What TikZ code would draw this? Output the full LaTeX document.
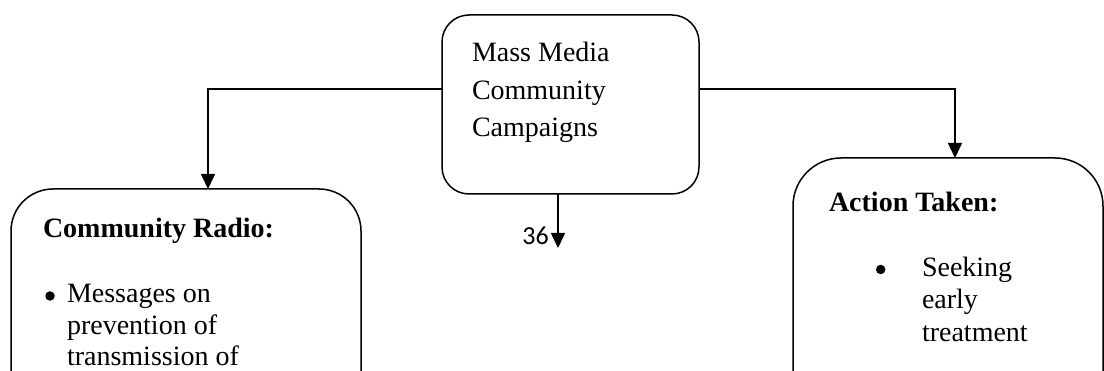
\documentclass[tikz,border=0pt]{standalone}
\usepackage{fontspec}
\setmainfont{Liberation Serif}
\newfontfamily\numfont{Carlito}
\usetikzlibrary{arrows.meta}
\tikzset{
  box/.style={draw, line width=1.5pt, rectangle, inner sep=0pt, outer sep=0pt},
  arr/.style={line width=1.5pt, -{Triangle[length=15pt,width=14pt]}},
  txt/.style={inner sep=0pt, outer sep=0pt, anchor=base west, align=left, font=\fontsize{28}{37.5}\selectfont},
  btxt/.style={txt, font=\fontsize{28}{37.5}\selectfont\bfseries},
  dot/.style={circle, fill=black, inner sep=0pt, minimum size=9.5pt},
}
\begin{document}
\begin{tikzpicture}[x=1pt,y=-1pt]
\fill[white] (0,0) rectangle (1104,371);
\useasboundingbox (0,0) rectangle (1104,371);
\clip (0,0) rectangle (1104,371);
% boxes
\node[box, rounded corners=27pt, minimum width=257pt, minimum height=179pt] (top) at (570.5,104.5) {};
\node[box, rounded corners=42pt, minimum width=350pt, minimum height=320pt] (radio) at (186,349) {};
\node[box, rounded corners=48pt, minimum width=310pt, minimum height=330pt] (action) at (948,323) {};
% texts (anchor = baseline of the last line)
\node[txt] (toptext) at (472,137) {Mass Media\\Community\\Campaigns};
\node[btxt] (radiotitle) at (43,238) {Community Radio:};
\node[dot] (rb) at (50,296) {};
\node[txt, font=\fontsize{28}{31.5}\selectfont] (radiotext) at (67,366) {Messages on\\prevention of\\transmission of};
\node[btxt] (actiontitle) at (829,212) {Action Taken:};
\node[dot] (ab) at (880.7,269.5) {};
\node[txt, font=\fontsize{28}{33}\selectfont] (actiontext) at (922,342) {Seeking\\early\\treatment};
\node[inner sep=0pt, anchor=base east, font=\numfont\fontsize{26}{26}\selectfont] (num) at (549,245) {36};
% connectors
\coordinate (downend) at (558,248);
\draw[arr] ([yshift=15.5pt]top.west) -| ([xshift=22pt]radio.north);
\draw[arr] ([yshift=15.5pt]top.east) -| ([xshift=7pt]action.north);
\draw[arr] ([xshift=-12.5pt]top.south) -- (downend);
\end{tikzpicture}
\end{document}
